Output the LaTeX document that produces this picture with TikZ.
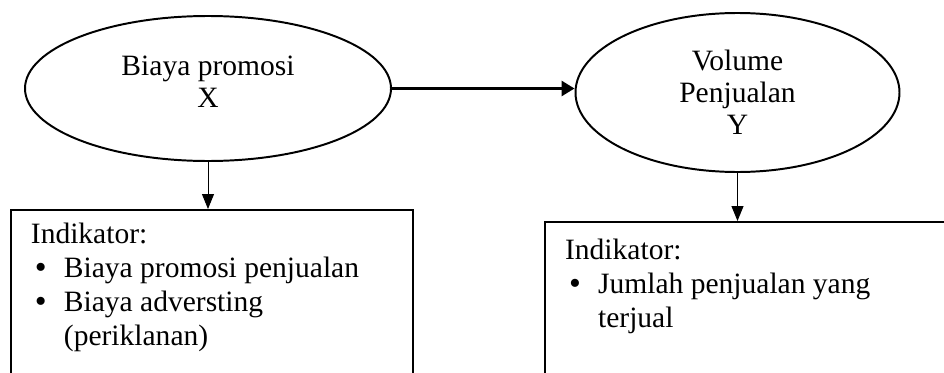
\documentclass[tikz,border=0pt]{standalone}
\usepackage{fontspec}
\setmainfont{Liberation Serif}
\usetikzlibrary{arrows.meta,shapes.geometric}
\tikzset{variabel/.style={shape=ellipse,draw,line width=1.4pt,inner sep=0pt,
        align=center,font=\fontsize{21}{22.7}\selectfont},
        indikator/.style={draw,line width=1.6pt,anchor=north west,
        inner xsep=0.5cm,inner ysep=0.42cm,font=\fontsize{21}{24.2}\selectfont},
        pengaruh/.style={line width=2.1pt,-{Triangle[length=0.325cm,width=0.375cm]}},
        turun/.style={line width=0.7pt,-{Triangle[length=0.375cm,width=0.3cm]}}}
\newcommand{\titik}{\raisebox{-0.8pt}[0pt][0pt]{\fontsize{24}{24}\selectfont\textbullet}}
\newcommand{\butir}[1]{\hspace*{0.1cm}\makebox[0.725cm][l]{\titik}#1}
\newcommand{\lanjut}[1]{\hspace*{0.825cm}#1}

\begin{document}
\begin{tikzpicture}
  \useasboundingbox (0,0) rectangle (23.6,-9.325);
  \clip (0,0) rectangle (23.6,-9.325);
  %% variables
  \node[variabel,minimum width=9.15cm,minimum height=3.625cm,text depth=0.35cm]
       (biaya) at (5.2,-2.2125) {Biaya promosi\\X};
  \node[variabel,minimum width=8.1cm,minimum height=3.975cm,text depth=-0.15cm]
       (volume) at (18.4375,-2.3125) {Volume\\Penjualan\\Y};
  %% indicators
  \node[indikator,inner ysep=0.33cm] (indx) at (0.245,-5.225)
       {\begin{minipage}[t][4.5cm][t]{9.05cm}
        Indikator:\\
        \butir{Biaya promosi penjualan}\\
        \butir{Biaya adversting}\\
        \lanjut{(periklanan)}
        \end{minipage}};
  \node[indikator] (indy) at (13.6,-5.525)
       {\begin{minipage}[t][4.5cm][t]{10cm}
        Indikator:\\
        \butir{Jumlah penjualan yang}\\
        \lanjut{terjual}
        \end{minipage}};
  %% arrows
  \draw[pengaruh] (biaya.east) -- (biaya.east -| volume.west);
  \draw[turun] (biaya.south) -- (biaya.south |- indx.north);
  \draw[turun] (volume.south) -- (volume.south |- indy.north);
\end{tikzpicture}
\end{document}
